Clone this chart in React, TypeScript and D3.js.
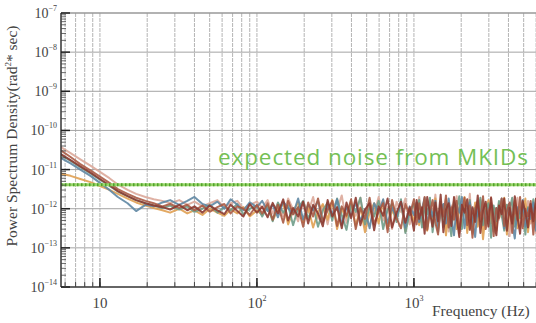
import React from 'react';
import * as d3 from 'd3';

// frequency grid (Hz), shared by every spectrum
const freqs = [
  5.6, 6.5, 7.5, 8.7, 10, 11.5, 13, 15, 17, 19.5, 22, 25, 28, 32, 36, 40, 45, 50, 56, 62, 68, 75, 82, 90, 100,
  108, 117, 126, 136, 147, 158, 170, 183, 197, 212, 228, 245, 263, 282, 302, 324, 347, 372, 398, 426, 456, 488, 522, 558, 596, 637, 680, 726, 775, 827, 882, 940, 1000,
  1040, 1080, 1125, 1170, 1215, 1265, 1315, 1370, 1425, 1480, 1540, 1600, 1665, 1730, 1800, 1870, 1945, 2020, 2100, 2185,
  2270, 2360, 2455, 2550, 2650, 2755, 2865, 2980, 3100, 3220, 3350, 3480, 3620, 3760, 3910, 4065, 4225, 4390, 4565, 4745,
  4930, 5125, 5330, 5540, 5760, 5990, 6230,
];

// log10 of PSD (rad^2 * sec) for each detector
const pinkLog = [
  -10.42, -10.58, -10.74, -10.9, -11.06, -11.22, -11.38, -11.52, -11.62, -11.7, -11.76, -11.8, -11.86, -11.78, -11.9, -11.82, -11.94, -11.86, -11.78, -11.96, -11.86, -11.8, -12.0, -11.9, -11.82,
  -11.98, -11.78, -12.12, -11.86, -12.2, -11.74, -12.02, -12.32, -11.82, -12.1, -11.7, -12.26, -11.92, -12.4, -11.8, -12.04, -11.66, -12.36, -11.94, -12.18, -11.72, -12.46, -11.88, -12.12, -11.7, -12.3, -11.96, -12.52, -11.82, -12.08, -11.74, -12.4, -11.92,
  -12.12, -11.7, -12.34, -11.9, -12.52, -11.8, -12.18, -11.64, -12.42, -11.98, -12.24, -11.74, -12.58, -11.92, -12.14, -11.68, -12.48, -12.02, -11.82, -12.34, -11.62, -12.64, -11.96, -12.2, -11.78, -12.46, -11.88, -12.1, -11.7, -12.56, -12.02, -12.28, -11.76, -12.4, -11.9, -12.7, -11.84, -12.12, -11.72, -12.5, -11.96, -12.24, -11.8, -12.38, -11.88, -12.62, -12.02,
];
const orangeLog = [
  -11.1, -11.16, -11.24, -11.32, -11.42, -11.52, -11.62, -11.74, -11.84, -11.92, -11.98, -12.04, -12.1, -12.0, -12.12, -12.04, -12.16, -12.0, -12.1, -12.18, -12.02, -12.12, -11.96, -12.2, -12.04,
  -12.16, -11.92, -12.3, -12.02, -11.86, -12.4, -12.06, -11.84, -12.34, -11.96, -12.48, -12.08, -11.88, -12.28, -11.78, -12.52, -12.02, -12.22, -11.82, -12.44, -11.96, -12.6, -12.1, -11.86, -12.38, -11.78, -12.5, -12.04, -12.26, -11.84, -12.58, -12.0, -12.34,
  -11.86, -12.42, -12.08, -11.76, -12.56, -11.98, -12.26, -11.74, -12.5, -12.12, -11.9, -12.68, -12.02, -12.32, -11.8, -12.52, -11.96, -12.18, -11.7, -12.62, -12.06, -12.36, -11.84, -12.46, -11.92, -12.78, -12.1, -11.78, -12.38, -11.98, -12.56, -11.86, -12.22, -11.72, -12.66, -12.02, -12.3, -11.8, -12.5, -11.96, -12.18, -11.74, -12.6, -12.08, -12.36, -11.88, -12.44,
];
const tealLog = [
  -10.62, -10.78, -10.94, -11.1, -11.26, -11.42, -11.56, -11.68, -11.78, -11.86, -11.92, -11.98, -11.92, -12.02, -11.94, -12.08, -12.0, -11.9, -12.1, -11.96, -12.04, -11.88, -12.14, -12.0, -11.92,
  -12.2, -11.94, -12.32, -11.84, -12.1, -11.92, -12.42, -11.98, -11.8, -12.26, -11.94, -12.46, -12.04, -11.84, -12.3, -11.74, -12.16, -12.54, -11.88, -12.08, -11.72, -12.4, -11.96, -12.2, -11.8, -12.52, -12.02, -11.88, -12.34, -11.76, -12.62, -12.1, -11.88,
  -12.22, -11.78, -12.48, -11.94, -12.14, -11.72, -12.6, -12.04, -12.3, -11.82, -12.46, -11.9, -12.16, -12.7, -11.84, -12.06, -11.68, -12.52, -12.0, -12.26, -11.78, -12.58, -11.98, -12.2, -11.72, -12.42, -12.08, -11.86, -12.74, -11.92, -12.32, -11.8, -12.16, -12.56, -11.9, -12.06, -11.72, -12.46, -12.0, -12.24, -11.84, -12.66, -11.96, -12.14, -11.76, -12.4, -12.04,
];
const blueLog = [
  -10.7, -10.84, -11.0, -11.16, -11.34, -11.52, -11.7, -11.86, -12.06, -11.9, -11.94, -11.84, -11.78, -11.9, -11.8, -11.7, -11.88, -11.94, -11.82, -12.0, -11.76, -11.9, -12.04, -11.84, -11.96,
  -11.8, -12.06, -11.9, -12.22, -11.82, -11.98, -12.14, -11.74, -12.28, -11.9, -12.04, -11.8, -12.36, -11.92, -12.14, -11.76, -12.42, -11.96, -12.18, -11.84, -12.32, -12.02, -12.5, -11.86, -12.1, -11.76, -12.38, -11.98, -12.22, -11.82, -12.48, -11.94, -12.16,
  -11.84, -12.34, -12.02, -11.72, -12.46, -11.94, -12.2, -11.8, -12.6, -12.04, -11.88, -12.38, -11.74, -12.24, -12.68, -11.92, -12.1, -11.7, -12.5, -12.0, -11.84, -12.32, -12.72, -11.94, -12.16, -11.78, -12.42, -12.04, -11.86, -12.58, -11.98, -12.22, -11.74, -12.5, -12.08, -11.86, -12.36, -12.76, -11.96, -12.12, -11.78, -12.46, -12.0, -12.26, -11.84, -12.56, -12.06,
];
const brownLog = [
  -10.5, -10.68, -10.86, -11.02, -11.18, -11.34, -11.5, -11.62, -11.72, -11.8, -11.86, -11.94, -11.88, -11.98, -11.9, -12.04, -11.92, -12.08, -11.96, -11.88, -12.12, -11.94, -12.0, -12.16, -11.9,
  -12.12, -11.86, -12.28, -11.9, -12.36, -11.8, -12.14, -11.96, -12.46, -11.84, -12.2, -11.74, -12.34, -12.04, -11.8, -12.44, -11.94, -12.18, -11.76, -12.52, -11.98, -12.26, -11.72, -12.4, -12.08, -11.86, -12.6, -11.78, -12.24, -12.5, -11.88, -12.16, -11.76,
  -12.4, -11.86, -12.16, -11.7, -12.54, -12.08, -11.78, -12.36, -12.66, -11.9, -12.2, -11.66, -12.48, -11.96, -12.28, -11.8, -12.62, -12.12, -11.72, -12.42, -11.92, -12.74, -12.02, -11.8, -12.32, -11.68, -12.52, -12.08, -11.86, -12.7, -11.98, -12.24, -11.74, -12.44, -12.06, -11.84, -12.62, -11.94, -12.3, -11.7, -12.5, -12.0, -12.2, -11.8, -12.66, -11.96, -12.28,
];
const redLog = [
  -10.6, -10.76, -10.92, -11.08, -11.24, -11.4, -11.55, -11.68, -11.78, -11.86, -11.92, -11.96, -12.02, -11.9, -12.04, -11.94, -12.1, -11.92, -12.04, -12.14, -11.9, -12.06, -12.2, -11.88, -12.1,
  -11.95, -12.22, -11.85, -12.12, -11.76, -12.3, -11.98, -12.2, -11.82, -12.38, -11.9, -12.12, -12.45, -11.78, -12.2, -11.96, -12.5, -11.84, -12.24, -11.72, -12.42, -12.02, -11.86, -12.55, -11.94, -12.18, -11.74, -12.48, -12.1, -11.82, -12.36, -11.96, -12.56,
  -11.78, -12.26, -11.96, -12.64, -11.7, -12.12, -12.46, -11.84, -12.32, -11.64, -12.6, -12.02, -11.86, -12.44, -11.7, -12.22, -12.72, -11.9, -12.1, -11.76, -12.54, -11.96, -12.34, -11.66, -12.62, -12.04, -11.82, -12.46, -11.72, -12.28, -12.68, -11.92, -12.14, -11.74, -12.56, -11.98, -12.38, -11.68, -12.2, -12.64, -11.8, -12.1, -12.48, -11.88, -12.32, -11.74, -12.58,
];

const series = [
  { name: 'pink', values: pinkLog, color: '#dba89a' },
  { name: 'orange', values: orangeLog, color: '#e0a052' },
  { name: 'teal', values: tealLog, color: '#6f9c88' },
  { name: 'blue', values: blueLog, color: '#5f87a3' },
  { name: 'brown', values: brownLog, color: '#a85a44' },
  { name: 'red', values: redLog, color: '#8c3a30' },
];

const expectedNoise = 4.1e-12;
const yDecades = [-7, -8, -9, -10, -11, -12, -13, -14];
const xDecades = [
  { value: 10, base: '10', sup: '' },
  { value: 100, base: '10', sup: '2' },
  { value: 1000, base: '10', sup: '3' },
];

const W = 536;
const H = 323;
const left = 61;
const top = 13;
const bottom = 287;

export default function App() {
  const x = d3.scaleLog().domain([5.65, 7000]).range([left, left + 157 * Math.log10(7000 / 5.65)]);
  const y = d3.scaleLog().domain([1e-14, 1e-7]).range([bottom, top]);
  const right = x.range()[1];

  const xMinor: number[] = [];
  [1, 10, 100, 1000].forEach(d => {
    for (let k = 1; k < 10; k++) {
      const v = d * k;
      if (v > 5.65 && v < 7000) xMinor.push(v);
    }
  });
  const yMinor: number[] = [];
  for (let e = -14; e < -7; e++) {
    for (let k = 2; k < 10; k++) yMinor.push(k * Math.pow(10, e));
  }

  const line = d3.line<number>()
    .defined((_, i) => freqs[i] !== undefined)
    .x((_, i) => x(freqs[i]))
    .y(d => y(Math.pow(10, d)));

  const serif = "'Liberation Serif', 'DejaVu Serif', serif";

  return (
    <svg width={W} height={H} style={{ position: 'absolute', left: 0, top: 0, background: '#fff' }}>
      <defs>
        <clipPath id="plot">
          <rect x={left} y={top} width={right - left} height={bottom - top} />
        </clipPath>
      </defs>

      {/* grid */}
      {xMinor.map(v => (
        <line key={`gx${v}`} x1={x(v)} x2={x(v)} y1={top} y2={bottom}
          stroke="#b4b4b4" strokeWidth={1} strokeDasharray="4 1" />
      ))}
      {yDecades.slice(1, -1).map(e => (
        <line key={`gy${e}`} x1={left} x2={right} y1={y(Math.pow(10, e))} y2={y(Math.pow(10, e))}
          stroke="#a4a4a4" strokeWidth={1} />
      ))}

      {/* spectra */}
      <g clipPath="url(#plot)">
        {series.map(s => (
          <path key={s.name} d={line(s.values) ?? ''} fill="none" stroke={s.color}
            strokeWidth={2} strokeOpacity={0.9} strokeLinejoin="round" />
        ))}
        <line x1={left} x2={right} y1={y(expectedNoise)} y2={y(expectedNoise)}
          stroke="#98d46a" strokeWidth={3} />
        <line x1={left} x2={right} y1={y(expectedNoise)} y2={y(expectedNoise)}
          stroke="#4fa32a" strokeWidth={3} strokeDasharray="1.5 2.5" />
      </g>

      {/* frame */}
      <line x1={left} x2={W} y1={top} y2={top} stroke="#999" strokeWidth={1.5} />
      <line x1={left} x2={left} y1={top} y2={bottom} stroke="#333" strokeWidth={1.5} />
      <line x1={left} x2={W} y1={bottom} y2={bottom} stroke="#333" strokeWidth={1.5} />

      {/* y ticks */}
      {yMinor.map(v => (
        <line key={`ym${v}`} x1={left} x2={left + 5} y1={y(v)} y2={y(v)} stroke="#444" strokeWidth={0.8} />
      ))}
      {yDecades.map(e => (
        <g key={`yt${e}`}>
          <line x1={left} x2={left + 9} y1={y(Math.pow(10, e))} y2={y(Math.pow(10, e))} stroke="#222" strokeWidth={1.5} />
          <text x={57} y={y(Math.pow(10, e)) + 5} textAnchor="end" fontFamily={serif} fontSize={14} fill="#444">
            <tspan>10</tspan>
            <tspan dy={-7} fontSize={8}>{`\u2212${-e}`}</tspan>
          </text>
        </g>
      ))}

      {/* x ticks */}
      {xMinor.map(v => (
        <line key={`xm${v}`} x1={x(v)} x2={x(v)} y1={bottom} y2={bottom - 5} stroke="#444" strokeWidth={1} />
      ))}
      {xDecades.map(d => (
        <g key={`xt${d.value}`}>
          <line x1={x(d.value)} x2={x(d.value)} y1={bottom} y2={bottom - 9} stroke="#222" strokeWidth={1.5} />
          <text x={x(d.value)} y={308} textAnchor="middle" fontFamily={serif} fontSize={15} fill="#444">
            <tspan>{d.base}</tspan>
            {d.sup && <tspan dy={-7} fontSize={8}>{d.sup}</tspan>}
          </text>
        </g>
      ))}

      <text x={432} y={316} fontFamily={serif} fontSize={15.5} fill="#444">Frequency (Hz)</text>
      <text transform="translate(17,136) rotate(-90)" textAnchor="middle" fontFamily={serif} fontSize={15.5} fill="#444">
        Power Spectrum Density(rad<tspan dy={-6} fontSize={9}>2</tspan><tspan dy={6}>* sec)</tspan>
      </text>

      <text x={218} y={165} fontFamily="'Open Sans', Lato, sans-serif" fontSize={22.5} fill="#74bf55"
        textLength={310} lengthAdjust="spacing">
        expected noise from MKIDs
      </text>
    </svg>
  );
}
